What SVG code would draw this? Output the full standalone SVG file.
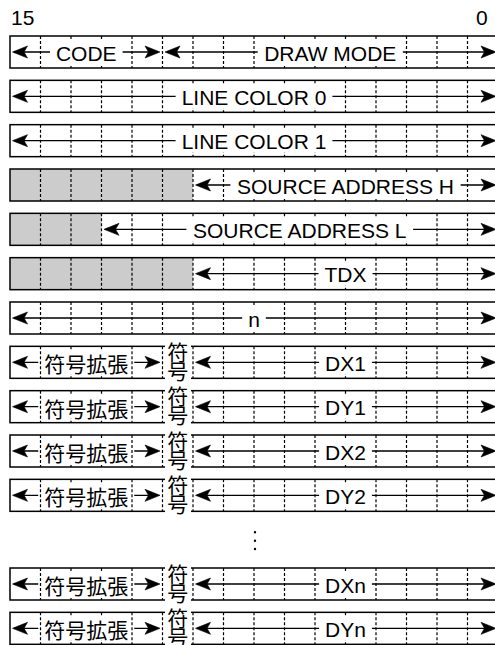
<svg xmlns="http://www.w3.org/2000/svg" xmlns:xlink="http://www.w3.org/1999/xlink" width="495" height="645" viewBox="0 0 495 645">
<style>
.cell{fill:#fff;stroke:none}
.gray{fill:#cccccc;stroke:none}
.frame{fill:none;stroke:#000;stroke-width:1.5}
.dot{fill:none;stroke:#000;stroke-width:1.2;stroke-dasharray:3 2}
.bg{fill:#fff;stroke:none}
.t{font-family:"Liberation Sans",Arial,sans-serif;font-size:21px;fill:#000;text-anchor:middle}
.j{font-family:"Liberation Sans","Noto Sans CJK JP",sans-serif;font-size:21px;fill:#000;text-anchor:middle}
.ln{stroke:#000;stroke-width:1.4;fill:none}
.head{fill:#000;stroke:#000;stroke-width:0.6;stroke-linejoin:round}
</style>
<defs>
<path id="hr" class="head" d="M0,0 L-15,-6 L-11.5,0 L-15,6 z"/>
<path id="hl" class="head" d="M0,0 L15,-6 L11.5,0 L15,6 z"/>
<g id="grid"><path class="dot" d="M40.5,0V32M71,0V32M101.5,0V32M132,0V32M162.5,0V32M193,0V32M223.5,0V32M254,0V32M284.5,0V32M315,0V32M345.5,0V32M376,0V32M406.5,0V32M437,0V32M467.5,0V32"/></g>
<g id="base"><rect class="cell" x="10" y="0" width="488" height="32"/></g>
<g id="sx">
<rect class="bg" x="42.25" y="4" width="88" height="24"/>
<text class="j" x="86.25" y="26">符号拡張</text>
<rect class="bg" x="165" y="-4" width="26" height="40"/>
<text class="j" x="177.75" y="13.5">符</text>
<text class="j" x="177.75" y="32.5">号</text>
</g>
<g id="sxa">
<path class="ln" d="M14,0H38.25M134.25,0H158M197,0H319.1M371.9,0H494"/>
<use xlink:href="#hl" x="12.5"/><use xlink:href="#hr" x="160"/><use xlink:href="#hl" x="195.5"/><use xlink:href="#hr" x="496"/>
</g>
</defs>
<text class="t" x="11" y="25.3" style="text-anchor:start">15</text>
<text class="t" x="476" y="25.3" style="text-anchor:start">0</text>

<g id="row-code" transform="translate(0,36)">
<use xlink:href="#base"/><use xlink:href="#grid"/><rect class="frame" x="10" y="0" width="488" height="32"/>
<rect class="bg" x="54" y="4" width="64.7" height="24"/><text class="t" x="86.25" y="24.8">CODE</text>
<rect class="bg" x="261.7" y="4" width="137" height="24"/><text class="t" x="330.25" y="24.8">DRAW MODE</text>
</g>
<g id="row-lc0" transform="translate(0,80.33)">
<use xlink:href="#base"/><use xlink:href="#grid"/><rect class="frame" x="10" y="0" width="488" height="32"/>
<rect class="bg" x="179.6" y="4" width="148.8" height="24"/><text class="t" x="254" y="24.8">LINE COLOR 0</text>
</g>
<g id="row-lc1" transform="translate(0,124.67)">
<use xlink:href="#base"/><use xlink:href="#grid"/><rect class="frame" x="10" y="0" width="488" height="32"/>
<rect class="bg" x="179.6" y="4" width="148.8" height="24"/><text class="t" x="254" y="24.8">LINE COLOR 1</text>
</g>
<g id="row-sah" transform="translate(0,169)">
<use xlink:href="#base"/><rect class="gray" x="10" y="0" width="183" height="32"/><use xlink:href="#grid"/><rect class="frame" x="10" y="0" width="488" height="32"/>
<rect class="bg" x="234.4" y="4" width="222.2" height="24"/><text class="t" x="345.5" y="24.8">SOURCE ADDRESS H</text>
</g>
<g id="row-sal" transform="translate(0,213.33)">
<use xlink:href="#base"/><rect class="gray" x="10" y="0" width="91.5" height="32"/><use xlink:href="#grid"/><rect class="frame" x="10" y="0" width="488" height="32"/>
<rect class="bg" x="190.4" y="4" width="218.7" height="24"/><text class="t" x="299.75" y="24.8">SOURCE ADDRESS L</text>
</g>
<g id="row-tdx" transform="translate(0,257.67)">
<use xlink:href="#base"/><rect class="gray" x="10" y="0" width="183" height="32"/><use xlink:href="#grid"/><rect class="frame" x="10" y="0" width="488" height="32"/>
<rect class="bg" x="322.5" y="4" width="46" height="24"/><text class="t" x="345.5" y="24.8">TDX</text>
</g>
<g id="row-n" transform="translate(0,302)">
<use xlink:href="#base"/><use xlink:href="#grid"/><rect class="frame" x="10" y="0" width="488" height="32"/>
<rect class="bg" x="246.2" y="4" width="15.6" height="24"/><text class="t" x="254" y="24.8">n</text>
</g>
<g id="row-dx1" transform="translate(0,346.33)">
<use xlink:href="#base"/><use xlink:href="#grid"/><rect class="frame" x="10" y="0" width="488" height="32"/><use xlink:href="#sx"/>
<rect class="bg" x="323.1" y="4" width="44.8" height="24"/><text class="t" x="345.5" y="24.8">DX1</text>
</g>
<g id="row-dy1" transform="translate(0,390.67)">
<use xlink:href="#base"/><use xlink:href="#grid"/><rect class="frame" x="10" y="0" width="488" height="32"/><use xlink:href="#sx"/>
<rect class="bg" x="323.1" y="4" width="44.8" height="24"/><text class="t" x="345.5" y="24.8">DY1</text>
</g>
<g id="row-dx2" transform="translate(0,435)">
<use xlink:href="#base"/><use xlink:href="#grid"/><rect class="frame" x="10" y="0" width="488" height="32"/><use xlink:href="#sx"/>
<rect class="bg" x="323.1" y="4" width="44.8" height="24"/><text class="t" x="345.5" y="24.8">DX2</text>
</g>
<g id="row-dy2" transform="translate(0,479.33)">
<use xlink:href="#base"/><use xlink:href="#grid"/><rect class="frame" x="10" y="0" width="488" height="32"/><use xlink:href="#sx"/>
<rect class="bg" x="323.1" y="4" width="44.8" height="24"/><text class="t" x="345.5" y="24.8">DY2</text>
</g>
<g id="ellipsis" fill="#000">
<circle cx="255" cy="532.3" r="1.2"/><circle cx="255" cy="540.7" r="1.2"/><circle cx="255" cy="549" r="1.2"/>
</g>
<g id="row-dxn" transform="translate(0,568)">
<use xlink:href="#base"/><use xlink:href="#grid"/><rect class="frame" x="10" y="0" width="488" height="32"/><use xlink:href="#sx"/>
<rect class="bg" x="323.1" y="4" width="44.8" height="24"/><text class="t" x="345.5" y="24.8">DXn</text>
</g>
<g id="row-dyn" transform="translate(0,612.33)">
<use xlink:href="#base"/><use xlink:href="#grid"/><rect class="frame" x="10" y="0" width="488" height="32"/><use xlink:href="#sx"/>
<rect class="bg" x="323.1" y="4" width="44.8" height="24"/><text class="t" x="345.5" y="24.8">DYn</text>
</g>

<g id="connectors">
<path class="ln" d="M14,52H50M122.6,52H158M167,52H257.7M402.8,52H494"/>
<use xlink:href="#hl" x="12.5" y="52"/><use xlink:href="#hr" x="160" y="52"/><use xlink:href="#hl" x="165" y="52"/><use xlink:href="#hr" x="496" y="52"/>
<path class="ln" d="M14,96.33H175.6M332.4,96.33H494"/>
<use xlink:href="#hl" x="12.5" y="96.33"/><use xlink:href="#hr" x="496" y="96.33"/>
<path class="ln" d="M14,140.67H175.6M332.4,140.67H494"/>
<use xlink:href="#hl" x="12.5" y="140.67"/><use xlink:href="#hr" x="496" y="140.67"/>
<path class="ln" d="M197,185H230.4M460.6,185H494"/>
<use xlink:href="#hl" x="195.5" y="185"/><use xlink:href="#hr" x="496" y="185"/>
<path class="ln" d="M105.5,229.33H186.4M413.1,229.33H494"/>
<use xlink:href="#hl" x="104" y="229.33"/><use xlink:href="#hr" x="496" y="229.33"/>
<path class="ln" d="M197,273.67H318.5M372.5,273.67H494"/>
<use xlink:href="#hl" x="195.5" y="273.67"/><use xlink:href="#hr" x="496" y="273.67"/>
<path class="ln" d="M14,318H242.2M265.8,318H494"/>
<use xlink:href="#hl" x="12.5" y="318"/><use xlink:href="#hr" x="496" y="318"/>
<use xlink:href="#sxa" y="362.33"/>
<use xlink:href="#sxa" y="406.67"/>
<use xlink:href="#sxa" y="451"/>
<use xlink:href="#sxa" y="495.33"/>
<use xlink:href="#sxa" y="584"/>
<use xlink:href="#sxa" y="628.33"/>
</g>
</svg>
